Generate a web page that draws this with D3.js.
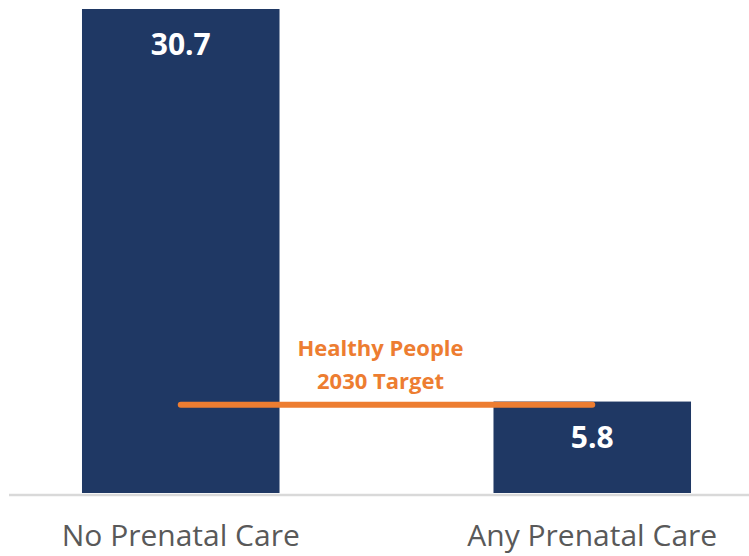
<!DOCTYPE html>
<html>
<head>
<meta charset="utf-8">
<script src="https://cdn.jsdelivr.net/npm/d3@7"></script>
<style>
  html, body { margin: 0; padding: 0; background: #fff; }
  svg { display: block; }
</style>
</head>
<body>
<div id="chart"></div>
<script>
// Infant mortality by prenatal care status, with the Healthy People 2030 target
const categories = ["No Prenatal Care", "Any Prenatal Care"];
const values = [30.7, 5.8];
const valueLabels = ["30.7", "5.8"];
const targetValue = 5.6;
const targetLabel = ["Healthy People", "2030 Target"];

const width = 749, height = 556;
const baseY = 493;

const svg = d3.select("#chart").append("svg")
  .attr("width", width).attr("height", height);

const x = d3.scaleBand()
  .domain(categories)
  .range([-25, 798])
  .paddingInner(0.52)
  .paddingOuter(0.26);

const y = d3.scaleLinear()
  .domain([0, 30.7])
  .range([baseY, 9]);

const barColor = "#1F3864";
const targetColor = "#ED7D31";

// bars
svg.selectAll("rect.bar").data(values).join("rect")
  .attr("class", "bar")
  .attr("x", (d, i) => x(categories[i]))
  .attr("width", x.bandwidth())
  .attr("y", d => y(d))
  .attr("height", d => baseY - y(d))
  .attr("fill", barColor);

// baseline axis
const xAxis = d3.axisBottom(x).tickSize(0).tickPadding(39);
const gx = svg.append("g").attr("transform", `translate(0,${baseY + 2})`).call(xAxis);
gx.select(".domain").remove();
svg.append("line")
  .attr("x1", 9).attr("x2", width)
  .attr("y1", baseY + 2).attr("y2", baseY + 2)
  .attr("stroke", "#d9d9d9").attr("stroke-width", 2.5);
gx.selectAll(".tick text")
  .attr("font-family", "'Open Sans', sans-serif")
  .attr("font-size", 30)
  .attr("fill", "#595959")
  .attr("dy", "0.4em");

// value labels inside bars
svg.selectAll("text.val").data(values).join("text")
  .attr("class", "val")
  .attr("x", (d, i) => x(categories[i]) + x.bandwidth() / 2)
  .attr("y", d => y(d) + 46)
  .attr("text-anchor", "middle")
  .attr("font-family", "'Open Sans', sans-serif")
  .attr("font-weight", 700)
  .attr("font-size", 30)
  .attr("fill", "#ffffff")
  .text((d, i) => valueLabels[i]);

// target line from first bar centre to second bar centre
const tx1 = x(categories[0]) + x.bandwidth() / 2;
const tx2 = x(categories[1]) + x.bandwidth() / 2;
svg.append("line")
  .attr("x1", tx1).attr("x2", tx2)
  .attr("y1", y(targetValue)).attr("y2", y(targetValue))
  .attr("stroke", targetColor)
  .attr("stroke-width", 6)
  .attr("stroke-linecap", "round");

const tl = svg.append("text")
  .attr("text-anchor", "middle")
  .attr("font-family", "'Open Sans', sans-serif")
  .attr("font-weight", 700)
  .attr("font-size", 22)
  .attr("fill", targetColor);
targetLabel.forEach((t, i) => {
  tl.append("tspan")
    .attr("x", (tx1 + tx2) / 2 - 6)
    .attr("y", y(targetValue) - 49 + i * 33)
    .text(t);
});
</script>
</body>
</html>
